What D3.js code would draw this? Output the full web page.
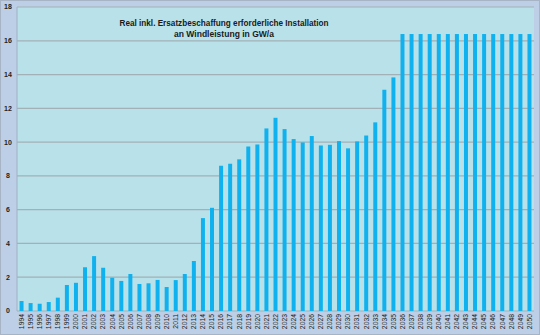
<!DOCTYPE html>
<html><head><meta charset="utf-8">
<script src="https://cdn.jsdelivr.net/npm/d3@7"></script>
<style>html,body{margin:0;padding:0;background:#bdcfe6;}svg{display:block;}</style>
</head><body>
<script>
const years = d3.range(1994, 2051).map(String);
const values = [0.59,0.47,0.43,0.53,0.79,1.54,1.67,2.59,3.25,2.56,1.97,1.78,2.19,1.6,1.64,1.84,1.42,1.83,2.19,2.96,5.5,6.11,8.6,8.72,8.98,9.74,9.86,10.81,11.44,10.77,10.18,9.98,10.36,9.8,9.84,10.06,9.63,10.04,10.39,11.17,13.1,13.83,
16.4,16.4,16.4,16.4,16.4,16.4,16.4,16.4,16.4,16.4,16.4,16.4,16.4,16.4,16.4];
const yTicks = [0,2,4,6,8,10,12,14,16,18];
const titleLines = ["Real inkl. Ersatzbeschaffung erforderliche Installation","an Windleistung in GW/a"];

const W=540,H=335;
const svg=d3.select("body").append("svg").attr("width",W).attr("height",H);
svg.append("rect").attr("x",0.5).attr("y",0.5).attr("width",W-1).attr("height",H-1).attr("fill","#bdcfe6").attr("stroke","#a7b4c6");

const x=d3.scaleBand().domain(years).range([17,534]).paddingInner(0.56).paddingOuter(0.28);
const y=d3.scaleLinear().domain([0,18]).range([311,7]);

svg.append("rect").attr("x",17).attr("y",y(18)).attr("width",534-17).attr("height",y(0)-y(18)).attr("fill","#b9e1ea");

// grid
svg.append("g").selectAll("line").data(yTicks).join("line")
 .attr("x1",17).attr("x2",534).attr("y1",d=>y(d)).attr("y2",d=>y(d))
 .attr("stroke","#a2b1b6").attr("stroke-width",1.2);
svg.append("line").attr("x1",17).attr("x2",17).attr("y1",y(18)).attr("y2",y(0)).attr("stroke","#9fb0c4");

// bars
svg.append("g").selectAll("rect").data(values).join("rect")
 .attr("x",(d,i)=>x(years[i])).attr("width",x.bandwidth())
 .attr("y",d=>y(d)).attr("height",d=>y(0)-y(d))
 .attr("fill","#0fb2ee");

// y labels
svg.append("g").selectAll("text").data(yTicks).join("text")
 .attr("x",8).attr("y",d=>y(d)).attr("dy","0.35em").attr("text-anchor","middle")
 .attr("font-family","Liberation Sans, Arial, sans-serif").attr("font-size",7).attr("font-weight","bold").attr("fill","#222")
 .text(d=>d);

// x labels
svg.append("g").selectAll("text").data(years).join("text")
 .attr("transform",d=>`translate(${x(d)+x.bandwidth()/2+2.3},314) rotate(-90)`)
 .attr("text-anchor","end")
 .attr("font-family","Liberation Sans, Arial, sans-serif").attr("font-size",6.8).attr("fill","#222")
 .text(d=>d);

// title
svg.append("g").selectAll("text").data(titleLines).join("text")
 .attr("x",224).attr("y",(d,i)=>26+i*11).attr("text-anchor","middle")
 .attr("font-family","Liberation Sans, Arial, sans-serif").attr("font-size",9.5).attr("font-weight","bold").attr("fill","#1a1a1a")
 .attr("textLength",(d,i)=>i===0?209:100).attr("lengthAdjust","spacingAndGlyphs")
 .text(d=>d);
</script>
</body></html>
